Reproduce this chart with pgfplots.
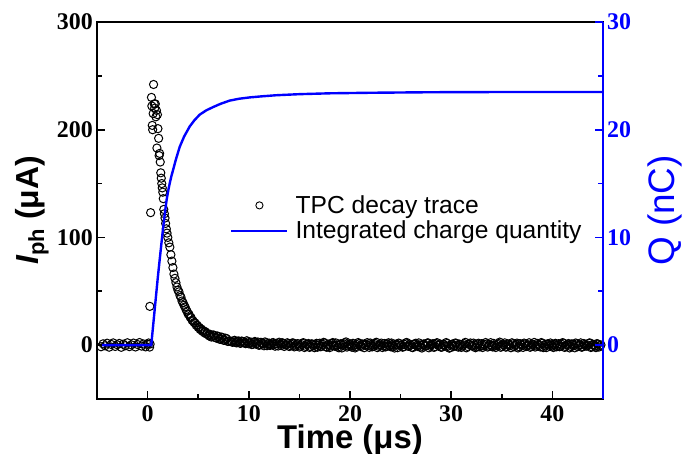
\documentclass[border=0pt]{standalone}
\usepackage{pgfplots}
\pgfplotsset{compat=1.18}
\usepackage{fontspec}
\setmainfont{Liberation Serif}
\newfontfamily\arial{Liberation Sans}
\begin{document}
\begin{tikzpicture}
\useasboundingbox (0,0) rectangle (687bp,454bp);
\begin{axis}[
  at={(97bp,55bp)}, anchor=south west, scale only axis,
  width=506bp, height=377bp,
  xmin=-5, xmax=45, ymin=-50, ymax=300,
  xtick={0,10,20,30,40}, minor xtick={5,15,25,35},
  ytick={0,100,200,300}, minor ytick={50,150,250},
  xtick pos=bottom, ytick pos=left, tick align=inside,
  major tick length=8bp, minor tick length=5bp,
  every tick/.style={black, line width=1.6bp},
  axis line style={line width=2bp},
  ticklabel style={font=\fontsize{24}{24}\selectfont\bfseries},
  yticklabel style={inner sep=4bp},
  xticklabel style={inner sep=6bp},
  /pgf/number format/assume math mode=true,
  xlabel={Time (μs)},
  xlabel style={font=\arial\bfseries\fontsize{33}{33}\selectfont, at={(axis description cs:0.5,-0.108)}, anchor=center},
  ylabel={\textit{I}\raisebox{-0.3ex}{\fontsize{22}{22}\selectfont ph} (μA)},
  ylabel style={font=\arial\bfseries\fontsize{32}{32}\selectfont, at={(axis description cs:-0.128,0.5)}, anchor=center, rotate=0},
]
\addplot[only marks, mark=o, mark size=4.1bp, line width=1bp, black] coordinates {
(-4.6,-1.5)(-4.4,1.2)(-4.2,-0.6)(-4.0,1.8)(-3.8,-1.9)(-3.6,0.7)(-3.4,2.1)(-3.2,-1.2)(-3.0,0.4)(-2.8,1.6)(-2.6,-2.0)(-2.4,0.9)(-2.2,-0.5)(-2.0,2.2)(-1.8,-1.4)(-1.6,0.3)(-1.4,1.9)(-1.2,-1.7)(-1.0,0.6)(-0.8,2.4)(-0.6,-0.9)(-0.4,1.1)(-0.2,-1.6)(0.0,0.8)(0.1,2.0)(0.2,-1.8)(0.25,1.0)
(0.22,36)(0.30,123)(0.38,230)(0.42,222)(0.46,204)(0.50,200)(0.55,215)(0.59,242)(0.65,224)(0.70,220)(0.76,224)(0.82,212)(0.87,218)(0.92,183)(0.97,214)(1.02,201)(1.09,192)(1.14,176)(1.19,178)(1.25,170)(1.30,160)(1.35,155)(1.40,150)(1.45,146)(1.50,142)(1.55,136)(1.60,126)(1.66,122)(1.72,118)(1.78,113)(1.85,108)(1.92,104)(2.0,100)(2.1,95)(2.2,91)(2.3,84)(2.4,78)(2.5,72)(2.6,66)(2.7,62)(2.8,58)(2.9,54)
(3.0,51)(3.1,49.5)(3.2,46)(3.3,44.5)(3.4,41)(3.5,39.5)(3.6,37)(3.7,35.5)(3.8,33)(3.9,31.5)(4.0,29)(4.1,28.5)(4.2,26)(4.3,25.5)(4.4,23)(4.5,22.5)(4.6,21)(4.7,20.5)(4.8,18.5)(4.9,18.5)(5.0,16.5)(5.1,16.5)(5.2,14.5)(5.3,15)(5.4,13)(5.5,13.5)(5.6,11.5)(5.7,12.5)(5.8,10.5)(5.9,11)(6.0,9.5)(6.1,8.5)(6.2,10)(6.3,7.5)(6.4,8)(6.5,9.5)(6.6,9)(6.7,7)(6.8,6.5)(6.9,8.5)(7.0,8)(7.1,5.5)(7.2,5.5)(7.3,7.5)(7.4,7)(7.5,4.5)(7.6,4.5)(7.7,6.5)(7.8,6)(7.9,3.5)(8.0,3.5)
(8.2,3.8)(8.4,2.6)(8.6,4.5)(8.8,2.1)(9.0,3.9)(9.2,1.7)(9.4,3.3)(9.6,2.0)(9.8,4.1)(10.0,1.2)(10.2,2.9)(10.4,0.8)(10.6,3.4)(10.8,1.5)(11.0,-0.2)(11.2,2.6)(11.4,1.1)(11.6,3.0)(11.8,-0.5)(12.0,1.9)(12.2,0.6)(12.4,2.4)(12.6,-1.0)(12.8,1.3)(13.0,2.7)(13.2,-0.4)(13.4,1.6)(13.6,0.2)(13.8,2.2)(14.0,-1.3)(14.2,0.9)(14.4,2.0)(14.6,-0.8)(14.8,1.4)(15.0,-1.8)(15.2,0.5)(15.4,2.3)(15.6,-1.1)(15.8,0.7)(16.0,-2.1)(16.2,1.2)(16.4,-0.6)(16.6,0.3)(16.8,-1.9)(17.0,1.8)(17.2,-0.9)(17.4,2.6)(17.6,-1.4)(17.8,0.4)(18.0,-2.3)(18.2,1.6)(18.4,-0.2)(18.6,2.1)(18.8,-1.7)(19.0,0.6)(19.2,-2.6)(19.4,1.0)(19.6,3.0)(19.8,-0.7)(20.0,1.3)(20.2,-2.0)(20.4,0.2)(20.6,-1.2)(20.8,2.4)(21.0,-0.5)(21.2,1.1)(21.4,-2.4)(21.6,0.8)(21.8,-0.3)(22.0,2.0)(22.2,-1.6)(22.4,0.5)(22.6,2.7)(22.8,-1.0)(23.0,0.1)(23.2,-2.2)(23.4,1.5)(23.6,-0.8)(23.8,2.2)(24.0,-1.5)(24.2,0.4)(24.4,-2.7)(24.6,0.9)(24.8,1.9)(25.0,-0.6)(25.2,-1.9)(25.4,0.7)(25.6,2.5)(25.8,-1.1)(26.0,0.0)(26.2,-2.3)(26.4,1.2)(26.6,-0.4)(26.8,2.1)(27.0,-1.7)(27.2,0.6)(27.4,-0.9)(27.6,1.7)(27.8,-2.5)(28.0,0.3)(28.2,1.4)(28.4,-1.3)(28.6,2.3)(28.8,-0.2)(29.0,-2.0)(29.2,0.8)(29.4,-1.0)(29.6,1.5)(29.8,-2.8)(30.0,0.5)(30.2,-1.4)(30.4,2.0)(30.6,-0.7)(30.8,1.0)(31.0,-2.1)(31.2,0.2)(31.4,2.6)(31.6,-1.2)(31.8,0.7)(32.0,-0.3)(32.2,1.9)(32.4,-2.4)(32.6,0.9)(32.8,-1.6)(33.0,1.3)(33.2,-0.5)(33.4,2.4)(33.6,-1.8)(33.8,0.4)(34.0,-0.9)(34.2,1.6)(34.4,-2.2)(34.6,0.6)(34.8,2.8)(35.0,-1.1)(35.2,0.1)(35.4,-1.9)(35.6,1.2)(35.8,-0.6)(36.0,2.2)(36.2,-1.5)(36.4,0.8)(36.6,-2.6)(36.8,1.4)(37.0,-0.2)(37.2,1.9)(37.4,-1.3)(37.6,0.3)(37.8,-2.0)(38.0,1.0)(38.2,2.5)(38.4,-0.8)(38.6,0.6)(38.8,-1.7)(39.0,1.7)(39.2,-0.4)(39.4,-2.3)(39.6,0.9)(39.8,2.0)(40.0,-1.0)(40.2,0.4)(40.4,-1.6)(40.6,1.3)(40.8,-0.7)(41.0,2.3)(41.2,-2.1)(41.4,0.2)(41.6,1.5)(41.8,-1.2)(42.0,0.7)(42.2,-2.5)(42.4,1.1)(42.6,-0.3)(42.8,2.1)(43.0,-1.4)(43.2,0.5)(43.4,-0.9)(43.6,1.8)(43.8,-2.2)(44.0,0.3)(44.2,-1.0)(44.4,1.4)(44.6,-1.8)(44.8,0.2)
(8.3,3.1)(8.5,4.0)(8.7,2.4)(8.9,3.5)(9.1,1.9)(9.3,3.8)(9.5,2.2)(9.7,1.4)(9.9,3.0)(10.1,2.1)(10.3,0.5)(10.5,2.7)(10.7,1.0)(10.9,2.9)(11.1,0.4)(11.3,1.8)(11.5,-0.6)(11.7,2.2)(11.9,1.0)(12.1,-0.3)(12.3,2.0)(12.5,0.7)(12.7,1.6)(12.9,-0.8)(13.1,1.1)(13.3,2.3)(13.5,-1.2)(13.7,0.5)(13.9,1.4)(14.1,-0.4)(14.3,2.1)(14.5,-1.6)(14.7,0.3)(14.9,1.2)(15.1,-0.9)(15.3,1.8)(15.5,-2.2)(15.7,0.6)(15.9,1.5)(16.1,-1.3)(16.3,0.9)(16.5,-2.4)(16.7,1.7)(16.9,-0.1)(17.1,-1.5)(17.3,0.8)(17.5,2.0)(17.7,-2.0)(17.9,1.0)(18.1,-0.7)(18.3,2.4)(18.5,-1.1)(18.7,0.2)(18.9,-2.5)(19.1,1.4)(19.3,-0.3)(19.5,2.2)(19.7,-1.8)(19.9,0.6)(20.1,-0.9)(20.3,1.7)(20.5,-2.6)(20.7,0.4)(20.9,1.5)(21.1,-1.4)(21.3,0.9)(21.5,-0.2)(21.7,2.3)(21.9,-2.1)(22.1,0.7)(22.3,-1.0)(22.5,1.6)(22.7,-2.3)(22.9,0.3)(23.1,1.9)(23.3,-0.6)(23.5,-1.7)(23.7,1.1)(23.9,-0.4)(24.1,2.0)(24.3,-1.2)(24.5,0.5)(24.7,-2.4)(24.9,1.3)(25.1,0.2)(25.3,-1.5)(25.5,2.1)(25.7,-0.8)(25.9,1.0)(26.1,-2.0)(26.3,0.6)(26.5,1.8)(26.7,-1.3)(26.9,0.1)(27.1,-2.7)(27.3,1.2)(27.5,-0.5)(27.7,2.2)(27.9,-1.0)(28.1,0.8)(28.3,-2.1)(28.5,1.5)(28.7,-0.3)(28.9,1.1)(29.1,-1.8)(29.3,0.4)(29.5,2.4)(29.7,-0.9)(29.9,-2.3)(30.1,1.0)(30.3,-0.4)(30.5,1.7)(30.7,-1.9)(30.9,0.6)(31.1,-0.8)(31.3,1.4)(31.5,-2.5)(31.7,0.9)(31.9,2.0)(32.1,-1.1)(32.3,0.3)(32.5,-1.6)(32.7,1.8)(32.9,-0.5)(33.1,-2.2)(33.3,0.7)(33.5,1.1)(33.7,-1.0)(33.9,2.3)(34.1,-1.7)(34.3,0.2)(34.5,-0.6)(34.7,1.5)(34.9,-2.0)(35.1,0.9)(35.3,2.1)(35.5,-1.2)(35.7,0.4)(35.9,-2.4)(36.1,1.3)(36.3,-0.3)(36.5,1.9)(36.7,-1.4)(36.9,0.6)(37.1,-2.1)(37.3,1.0)(37.5,-0.7)(37.7,2.2)(37.9,-1.1)(38.1,0.2)(38.3,-1.8)(38.5,1.6)(38.7,-0.4)(38.9,2.4)(39.1,-2.3)(39.3,0.8)(39.5,1.2)(39.7,-1.0)(39.9,0.3)(40.1,-2.2)(40.3,1.7)(40.5,-0.2)(40.7,-1.5)(40.9,0.9)(41.1,1.9)(41.3,-1.3)(41.5,0.5)(41.7,-2.6)(41.9,1.2)(42.1,-0.6)(42.3,2.0)(42.5,-1.4)(42.7,0.4)(42.9,-2.0)(43.1,1.5)(43.3,-0.8)(43.5,0.1)(43.7,2.1)(43.9,-1.6)(44.1,0.7)(44.3,-2.3)(44.5,1.0)(44.7,-0.5)
};
\end{axis}
\begin{axis}[
  at={(97bp,55bp)}, anchor=south west, scale only axis,
  width=506bp, height=377bp,
  xmin=-5, xmax=45, ymin=-5, ymax=30,
  axis x line=none, axis y line*=right,
  axis line style={-},
  y axis line style={blue, line width=2bp},
  ytick={0,10,20,30}, minor ytick={5,15,25},
  tick align=inside,
  major tick length=8bp, minor tick length=5bp,
  every tick/.style={blue, line width=1.6bp},
  yticklabel style={font=\fontsize{24}{24}\selectfont\bfseries, text=blue, inner sep=4bp},
  /pgf/number format/assume math mode=true,
  ylabel={Q (nC)},
  ylabel style={font=\arial\fontsize{37}{37}\selectfont, text=blue, at={(axis description cs:1.1225,0.5)}, anchor=center},
  legend style={draw=none, fill=none, at={(axis description cs:0.257,0.48)}, anchor=west,
    font=\arial\fontsize{24.7}{24.7}\selectfont, nodes={inner sep=3bp}, row sep=0bp,
    /tikz/every odd column/.append style={column sep=4bp}},
  legend cell align=left,
  legend image code/.code={\draw[mark repeat=2,mark phase=2,#1] plot coordinates {(0bp,0bp)(28bp,0bp)(56bp,0bp)};},
]
\addlegendimage{only marks, mark=o, mark size=3.6bp, line width=0.9bp, black}
\addlegendentry{TPC decay trace}
\addplot[blue, line width=2.4bp] coordinates {
(-4.5,0)(0.36,0)(0.7,3.3)(1.0,6.2)(1.19,7.9)(1.35,9.3)(1.5,10.6)(1.7,12.2)(1.88,13.5)(2.03,14.3)(2.18,15.0)(2.34,15.65)(2.5,16.2)(2.8,17.25)(3.17,18.4)(3.6,19.35)(4.16,20.3)(4.6,20.85)(5.15,21.4)(5.8,21.8)(6.47,22.1)(7.2,22.4)(8.1,22.7)(9,22.87)(10.1,23.0)(11.3,23.1)(12.7,23.2)(15,23.3)(18,23.38)(22,23.43)(28,23.48)(35,23.5)(45,23.5)
};
\addlegendentry{Integrated charge quantity}
\end{axis}
\end{tikzpicture}
\end{document}
